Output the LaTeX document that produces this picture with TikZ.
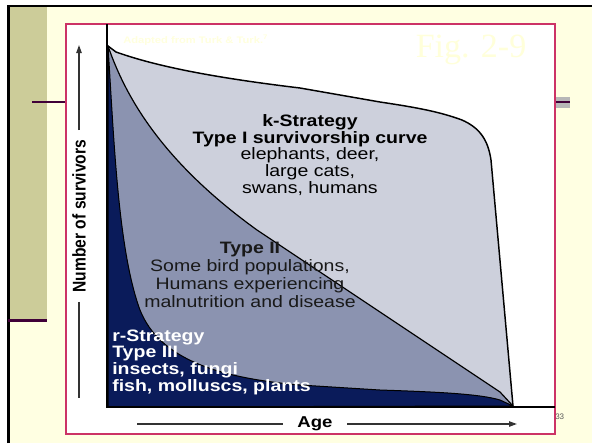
\documentclass[tikz,border=0pt]{standalone}
\usepackage{fontspec}
\usepackage{tikz}
\usetikzlibrary{arrows.meta}
\newfontfamily\figfont[FakeStretch=1.18]{Liberation Sans}
\newfontfamily\slidefont{Liberation Sans}
\newfontfamily\slideserif{Liberation Serif}

\begin{document}
\begin{tikzpicture}[x=0.75pt,y=0.75pt,yscale=-1,xscale=1,
        axisarrow/.style={color={rgb, 255:red, 51; green, 51; blue, 51 },line width=1.1pt},
        bandline/.style={color={rgb, 255:red, 64; green, 0; blue, 56 },line width=1.8pt},
        figtext/.style={inner sep=0.75pt,align=center,font=\figfont\fontsize{12.4pt}{12.5pt}\selectfont}]
        \useasboundingbox (0,0) rectangle (592,443);

        %Shape: Rectangle (slide)
        \fill [color={rgb, 255:red, 255; green, 255; blue, 226 }] (8,5) rectangle (592,443) ;
        %Shape: Rectangle (side band)
        \fill [color={rgb, 255:red, 204; green, 204; blue, 153 }] (10,7) rectangle (47,320) ;
        %Straight Lines (slide frame)
        \draw [line width=1.9pt] (8.5,443) -- (8.5,6) -- (592,6) ;
        \draw [bandline] (8,320.5) -- (47,320.5) ;
        \draw [bandline, line width=1.5pt] (32,102) -- (66,102) ;
        %Shape: Rectangle (right tab)
        \fill [color={rgb, 255:red, 183; green, 183; blue, 183 }] (555,97) rectangle (570,108) ;
        \draw [bandline, line width=1.5pt] (555,102) -- (570,102) ;

        %Shape: Rectangle (figure)
        \draw [color={rgb, 255:red, 204; green, 51; blue, 102 }, fill=white, line width=0.8pt] (66,24) rectangle (555,434) ;

        %Shape: Type I region
        \filldraw [fill={rgb, 255:red, 205; green, 208; blue, 220 }, line width=1.1pt, line join=round] (108,46) -- (116,52) .. controls (150,64) and (200,76) .. (300,88) -- (380,102) .. controls (420,108) and (440,112) .. (462,120) .. controls (480,128) and (488,140) .. (491,160) -- (513,406) -- (108,407) -- cycle ;
        %Shape: Type II region
        \filldraw [fill={rgb, 255:red, 139; green, 147; blue, 176 }, line width=0.9pt, line join=round] (108,46) .. controls (125,95) and (160,160) .. (257,230) -- (500,392) -- (513,406) -- (108,407) -- cycle ;
        %Shape: Type III region
        \filldraw [fill={rgb, 255:red, 10; green, 27; blue, 90 }, line width=0.75pt, line join=round] (108,46) .. controls (114,140) and (118,250) .. (140,310) .. controls (160,360) and (220,378) .. (300,385) -- (380,390) .. controls (440,392) and (480,394) .. (500,400) -- (513,406) -- (108,407) -- cycle ;

        %Straight Lines (axes)
        \draw [line width=1.1pt] (107,24) -- (107,407) -- (555,407) ;

        % Text Node
        \node (typeone) [figtext] at (310,155) {{\bfseries k-Strategy}\\{\bfseries Type I survivorship curve}\\elephants, deer,\\large cats,\\swans, humans};
        % Text Node
        \node (typetwo) [figtext, text={rgb, 255:red, 25; green, 25; blue, 25 }, font=\figfont\fontsize{12.4pt}{13.4pt}\selectfont] at (250,275) {{\bfseries Type II}\\Some bird populations,\\Humans experiencing\\malnutrition and disease};
        % Text Node
        \node (typethree) [figtext, anchor=west, align=left, text=white, font=\figfont\bfseries\fontsize{12.4pt}{12.5pt}\selectfont] at (111,362) {r-Strategy\\Type III\\insects, fungi\\fish, molluscs, plants};

        % Text Node
        \node (ylab) [rotate=90, inner sep=0pt, inner xsep=7pt, font=\slidefont\bfseries\fontsize{11.7pt}{12pt}\selectfont] at (79,216) {\scalebox{1}[1.18]{Number of survivors}};
        \coordinate (ytop) at (79,45) ;
        \coordinate (ybot) at (79,398) ;
        \draw [axisarrow, -{Triangle[length=6pt,width=4pt]}] (ylab.east) -- (ytop) ;
        \draw [axisarrow] (ylab.west) -- (ybot) ;

        % Text Node
        \node (xlab) [inner sep=0pt, inner xsep=11pt, font=\figfont\bfseries\fontsize{11.8pt}{12pt}\selectfont] at (315,424) {Age};
        \coordinate (xleft) at (137,424) ;
        \coordinate (xtip) at (517,424) ;
        \draw [axisarrow] (xleft) -- (xlab.west) ;
        \draw [axisarrow, -{Triangle[length=6pt,width=4pt]}] (xlab.east) -- (xtip) ;

        % Text Node
        \node (adapted) [anchor=west, inner sep=0.75pt, text={rgb, 255:red, 255; green, 255; blue, 222 }, font=\figfont\bfseries\fontsize{7.1pt}{8pt}\selectfont] at (122,40) {Adapted from Turk \& Turk.\textsuperscript{7}};
        % Text Node
        \node (fignum) [anchor=base, inner sep=0.75pt, text={rgb, 255:red, 255; green, 255; blue, 218 }, font=\slideserif\fontsize{25.5pt}{26pt}\selectfont] at (471,57) {Fig. 2-9};
        % Text Node
        \node (pagenum) [anchor=west, inner sep=0.75pt, text={rgb, 255:red, 90; green, 90; blue, 90 }, font=\slidefont\fontsize{6pt}{7pt}\selectfont] at (554,417) {33};

\end{tikzpicture}
\end{document}
